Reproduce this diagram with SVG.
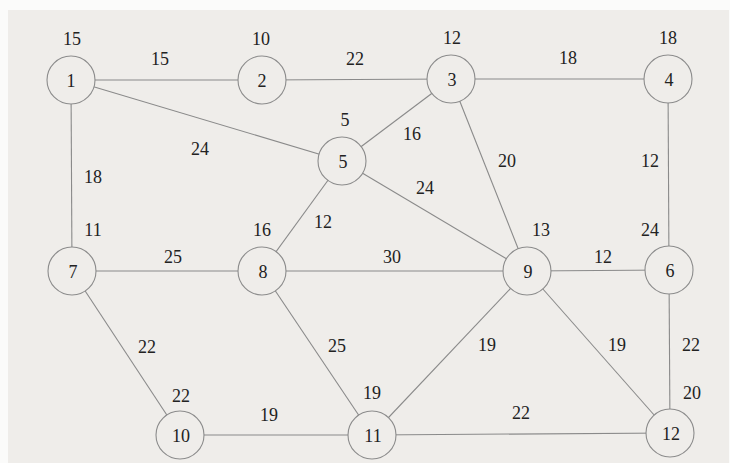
<svg xmlns="http://www.w3.org/2000/svg" width="730" height="463" viewBox="0 0 730 463" font-family="'Liberation Serif', 'DejaVu Serif', serif">
<style>
.e{stroke:#8a8a8a;stroke-width:1.1;fill:none}
.n circle{fill:#efedea;stroke:#8c8c8c;stroke-width:1.1}
text{font-family:'Liberation Serif','DejaVu Serif',serif;font-size:18px;fill:#222;text-anchor:middle;dominant-baseline:central}
</style>
<rect x="0" y="0" width="730" height="463" fill="#fbfbfa"/>
<rect x="8" y="10" width="721" height="453" fill="#efedea"/>
<g id="connectors">
<line class="e" x1="71" y1="80" x2="262" y2="80"/>
<line class="e" x1="262" y1="80" x2="451" y2="79"/>
<line class="e" x1="451" y1="79" x2="668" y2="79"/>
<line class="e" x1="71" y1="80" x2="342" y2="161"/>
<line class="e" x1="71" y1="80" x2="72" y2="271"/>
<line class="e" x1="451" y1="79" x2="342" y2="161"/>
<line class="e" x1="451" y1="79" x2="527" y2="271"/>
<line class="e" x1="668" y1="79" x2="669" y2="270"/>
<line class="e" x1="342" y1="161" x2="527" y2="271"/>
<line class="e" x1="342" y1="161" x2="262" y2="271"/>
<line class="e" x1="72" y1="271" x2="262" y2="271"/>
<line class="e" x1="262" y1="271" x2="527" y2="271"/>
<line class="e" x1="527" y1="271" x2="669" y2="270"/>
<line class="e" x1="72" y1="271" x2="180" y2="435"/>
<line class="e" x1="262" y1="271" x2="372" y2="435"/>
<line class="e" x1="180" y1="435" x2="372" y2="435"/>
<line class="e" x1="527" y1="271" x2="372" y2="435"/>
<line class="e" x1="527" y1="271" x2="670" y2="433"/>
<line class="e" x1="669" y1="270" x2="670" y2="433"/>
<line class="e" x1="372" y1="435" x2="670" y2="433"/>
</g>
<g id="edge-labels">
<text x="160" y="59">15</text>
<text x="355" y="59">22</text>
<text x="568" y="58">18</text>
<text x="200" y="149">24</text>
<text x="93" y="177">18</text>
<text x="412" y="134">16</text>
<text x="507" y="161">20</text>
<text x="650" y="161">12</text>
<text x="425" y="188">24</text>
<text x="323" y="222">12</text>
<text x="173" y="257">25</text>
<text x="392" y="257">30</text>
<text x="603" y="257">12</text>
<text x="147" y="347">22</text>
<text x="337" y="346">25</text>
<text x="269" y="415">19</text>
<text x="487" y="345">19</text>
<text x="617" y="345">19</text>
<text x="691" y="345">22</text>
<text x="521" y="413">22</text>
</g>
<g id="node1" class="n"><circle cx="71" cy="80" r="24"/><text x="71" y="81">1</text><text x="72" y="39">15</text></g>
<g id="node2" class="n"><circle cx="262" cy="80" r="24"/><text x="262" y="81">2</text><text x="261" y="39">10</text></g>
<g id="node3" class="n"><circle cx="451" cy="79" r="24"/><text x="452" y="80">3</text><text x="452" y="38">12</text></g>
<g id="node4" class="n"><circle cx="668" cy="79" r="24"/><text x="669" y="80">4</text><text x="668" y="38">18</text></g>
<g id="node5" class="n"><circle cx="342" cy="161" r="24"/><text x="343" y="162">5</text><text x="345" y="120">5</text></g>
<g id="node6" class="n"><circle cx="669" cy="270" r="24"/><text x="670" y="271">6</text><text x="650" y="230">24</text></g>
<g id="node7" class="n"><circle cx="72" cy="271" r="24"/><text x="73" y="272">7</text><text x="93" y="230">11</text></g>
<g id="node8" class="n"><circle cx="262" cy="271" r="24"/><text x="263" y="272">8</text><text x="262" y="230">16</text></g>
<g id="node9" class="n"><circle cx="527" cy="271" r="24"/><text x="528" y="272">9</text><text x="541" y="230">13</text></g>
<g id="node10" class="n"><circle cx="180" cy="435" r="24"/><text x="181" y="436">10</text><text x="181" y="396">22</text></g>
<g id="node11" class="n"><circle cx="372" cy="435" r="24"/><text x="373" y="436">11</text><text x="372" y="393">19</text></g>
<g id="node12" class="n"><circle cx="670" cy="433" r="24"/><text x="671" y="434">12</text><text x="692" y="393">20</text></g>
</svg>
